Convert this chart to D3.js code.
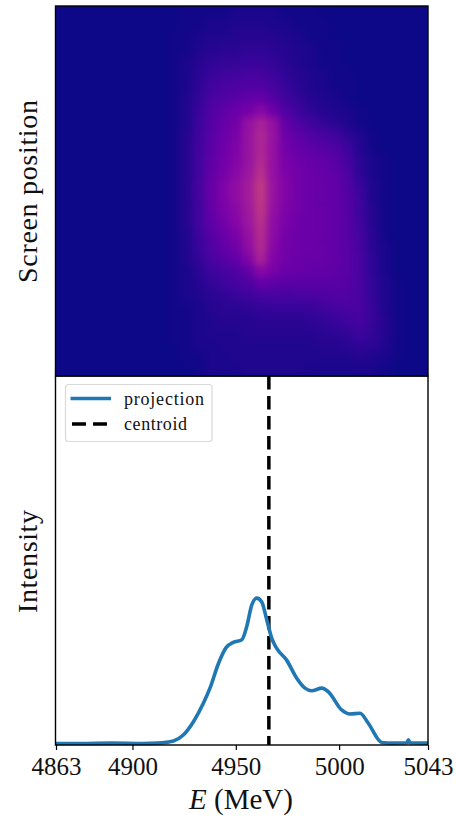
<!DOCTYPE html>
<html>
<head>
<meta charset="utf-8">
<script src="https://cdn.jsdelivr.net/npm/d3@7"></script>
<style>
  html, body { margin: 0; padding: 0; background: #fff; }
  svg { display: block; }
  text { font-family: "Liberation Serif", serif; fill: #111; }
</style>
</head>
<body>
<div id="chart"></div>
<script>
// projection
var projEnergy = [4863, 4875, 4890, 4905, 4912, 4919.8, 4924.6, 4929.5, 4934.3, 4937.5, 4941.6, 4945.3, 4948.8, 4952.9,
    4955.3, 4957.7, 4960.1, 4962.5, 4965, 4967.4, 4969.8, 4974.6, 4979.5, 4983.5, 4986.7, 4991.6, 4994.8, 5001.2,
    5005.3, 5010.1, 5014.1, 5020.6, 5026, 5032.7, 5033.5, 5034.3, 5043];
var projIntensity = [0.004, 0.004, 0.005, 0.004, 0.005, 0.011, 0.027, 0.063, 0.113, 0.154, 0.221, 0.264, 0.278, 0.285,
    0.321, 0.379, 0.398, 0.388, 0.339, 0.289, 0.262, 0.230, 0.181, 0.154, 0.147, 0.154, 0.144, 0.095,
    0.084, 0.086, 0.059, 0.007, 0.005, 0.006, 0.014, 0.006, 0.005];

var centroid = 4966;
var xTicks = [4863, 4900, 4950, 5000, 5043];
var legendLabels = ["projection", "centroid"];
var legendWidths = [80, 63];

// heatmap: energy bin centres (MeV), one row per screen slice, plasma fraction x 100
var energyBins = [4920, 4926, 4932, 4938, 4944, 4950, 4956, 4962, 4968, 4974, 4980, 4986, 4992, 4998, 5004, 5010, 5016, 5022, 5028, 5034];
var heatRows = [
    [0,1,1,1,1,2,2,2,2,1,1,1,0,0,0,0,0,0,0,0],
    [0,1,1,2,2,3,3,3,2,2,1,1,1,0,0,0,0,0,0,0],
    [1,1,2,3,3,4,4,4,4,3,2,1,1,0,0,0,0,0,0,0],
    [1,1,3,4,5,5,6,6,5,4,3,2,1,1,0,0,0,0,0,0],
    [1,2,4,6,7,7,8,8,7,5,3,2,1,1,0,0,0,0,0,0],
    [1,2,5,8,9,10,11,11,9,6,4,3,2,1,1,0,0,0,0,0],
    [1,2,6,10,12,13,14,14,12,8,5,3,2,1,1,0,0,0,0,0],
    [1,3,7,12,14,16,18,19,15,10,7,4,3,2,1,0,0,0,0,0],
    [1,3,8,14,17,20,23,28,21,14,9,6,4,3,2,1,0,0,0,0],
    [1,3,9,15,19,22,31,37,31,18,13,10,7,5,3,1,0,0,0,0],
    [1,4,9,16,20,24,32,39,32,21,17,14,12,10,6,3,1,0,0,0],
    [1,4,10,16,21,25,32,39,31,22,19,17,15,13,9,4,1,0,0,0],
    [1,4,10,17,22,26,32,40,31,24,21,19,18,16,11,5,2,1,0,0],
    [1,4,10,18,23,28,33,42,31,25,22,20,19,17,13,6,2,1,0,0],
    [1,4,11,19,25,30,35,45,32,26,22,20,19,18,14,8,3,1,0,0],
    [1,4,11,19,25,30,35,45,32,26,22,20,19,18,15,9,3,1,0,0],
    [1,4,10,18,24,28,34,44,31,25,22,20,19,18,15,9,4,1,0,0],
    [1,4,10,17,22,27,33,42,30,24,21,20,19,18,15,10,4,1,0,0],
    [1,3,9,15,20,24,31,41,29,23,21,20,19,18,15,11,5,1,0,0],
    [1,3,8,14,18,22,30,40,28,22,21,20,19,18,16,11,5,2,0,0],
    [1,3,7,12,15,18,26,37,26,22,20,19,19,18,16,12,6,2,0,0],
    [1,2,5,9,11,13,18,28,24,20,19,18,18,17,16,12,6,2,0,0],
    [1,2,4,7,9,11,13,18,17,16,16,16,16,16,15,12,7,3,1,0],
    [1,2,3,5,6,8,9,11,11,11,12,12,13,14,14,12,7,3,1,0],
    [1,1,2,4,5,5,6,7,8,8,8,8,9,11,12,12,8,3,1,0],
    [1,1,2,3,4,4,4,5,5,5,5,6,7,8,10,11,8,4,1,0],
    [1,1,2,3,3,3,4,4,4,4,4,4,5,6,7,9,7,4,1,0],
    [0,1,2,2,3,3,3,3,3,3,3,3,4,4,5,6,6,3,1,0],
    [0,1,1,2,2,3,3,3,3,3,3,3,3,3,3,4,3,2,1,0],
    [0,0,1,2,2,2,3,3,3,3,3,2,2,2,2,2,2,1,0,0]
];

var width = 456,
    height = 818;

var plot = { left: 56, right: 428, top: 6, mid: 376, bottom: 745 };
var binWidth = 6;

var x = d3.scaleLinear().domain([4863, 5043]).range([plot.left, plot.right]);
var yProj = d3.scaleLinear().domain([0, 1]).range([plot.bottom, plot.mid]);
var yRow = d3.scaleLinear().domain([0, heatRows.length]).range([plot.top, plot.mid]);
var color = function(v) { return d3.interpolatePlasma(v / 100); };

var svg = d3.select("#chart").append("svg")
    .attr("width", width)
    .attr("height", height);

var defs = svg.append("defs");
defs.append("clipPath").attr("id", "heat-clip").append("rect")
    .attr("x", plot.left).attr("y", plot.top)
    .attr("width", plot.right - plot.left).attr("height", plot.mid - plot.top);
defs.append("filter").attr("id", "soften")
    .attr("filterUnits", "userSpaceOnUse")
    .attr("color-interpolation-filters", "sRGB")
    .attr("x", 0).attr("y", 0).attr("width", width).attr("height", height)
    .append("feGaussianBlur").attr("stdDeviation", "3.5 3.5");

// top panel
var heat = svg.append("g").attr("clip-path", "url(#heat-clip)");
heat.append("rect")
    .attr("x", plot.left).attr("y", plot.top)
    .attr("width", plot.right - plot.left).attr("height", plot.mid - plot.top)
    .attr("fill", color(0));

// the blur needs an opaque base or the outer cells fade to transparent
var soft = heat.append("g").attr("filter", "url(#soften)");
soft.append("rect")
    .attr("x", 0).attr("y", 0)
    .attr("width", width).attr("height", height)
    .attr("fill", color(0));

var rows = soft.selectAll("g").data(heatRows).enter().append("g");

rows.selectAll("rect")
    .data(function(row, j) { return row.map(function(v, i) { return { v: v, e: energyBins[i], j: j }; }); })
    .enter().append("rect")
    .attr("x", function(d) { return x(d.e - binWidth / 2); })
    .attr("width", x(binWidth) - x(0) + 0.5)
    .attr("y", function(d) { return yRow(d.j); })
    .attr("height", yRow(1) - yRow(0) + 0.5)
    .attr("fill", function(d) { return color(d.v); });

// bottom panel
svg.append("line")
    .attr("x1", x(centroid)).attr("x2", x(centroid))
    .attr("y1", plot.mid).attr("y2", plot.bottom)
    .attr("stroke", "#000")
    .attr("stroke-width", 3.5)
    .attr("stroke-dasharray", "13.5,6.5");

var line = d3.line()
    .x(function(d) { return x(d[0]); })
    .y(function(d) { return yProj(d[1]); })
    .curve(d3.curveMonotoneX);

svg.append("path")
    .datum(d3.zip(projEnergy, projIntensity))
    .attr("d", line)
    .attr("fill", "none")
    .attr("stroke", "#1f77b4")
    .attr("stroke-width", 3.6);

// frames
[[plot.top, plot.mid], [plot.mid, plot.bottom]].forEach(function(p) {
    svg.append("rect")
        .attr("x", plot.left - 0.5).attr("y", p[0])
        .attr("width", plot.right - plot.left + 0.5).attr("height", p[1] - p[0])
        .attr("fill", "none")
        .attr("stroke", "#000")
        .attr("stroke-width", 1.4);
});

// x axis
var axis = svg.append("g")
    .attr("transform", "translate(0," + plot.bottom + ")")
    .call(d3.axisBottom(x).tickValues(xTicks).tickFormat(d3.format("d")).tickSize(5).tickPadding(7));
axis.select(".domain").remove();
axis.selectAll(".tick line").attr("stroke", "#000").attr("stroke-width", 1.2);
axis.selectAll(".tick text").style("font-size", "25px").style("font-family", '"Liberation Serif", serif').attr("fill", "#111");

var xLabel = svg.append("text")
    .attr("x", (plot.left + plot.right) / 2 - 1)
    .attr("y", 809)
    .attr("text-anchor", "middle")
    .style("font-size", "29px");
xLabel.append("tspan").style("font-style", "italic").text("E");
xLabel.append("tspan").text(" (MeV)");

svg.append("text")
    .attr("transform", "translate(37,191.5) rotate(-90)")
    .attr("text-anchor", "middle")
    .attr("textLength", 183)
    .attr("lengthAdjust", "spacing")
    .style("font-size", "28px")
    .text("Screen position");

svg.append("text")
    .attr("transform", "translate(37,561.5) rotate(-90)")
    .attr("text-anchor", "middle")
    .attr("textLength", 103)
    .attr("lengthAdjust", "spacing")
    .style("font-size", "28px")
    .text("Intensity");

// legend
var legend = svg.append("g");
legend.append("rect")
    .attr("x", 65.5).attr("y", 384.5)
    .attr("width", 146.5).attr("height", 57)
    .attr("rx", 3)
    .attr("fill", "#fff")
    .attr("fill-opacity", 0.85)
    .attr("stroke", "#d9d9d9")
    .attr("stroke-width", 1.2);

legendLabels.forEach(function(label, i) {
    var ly = 398.5 + i * 25.5;
    legend.append("line")
        .attr("x1", i == 0 ? 70.5 : 72).attr("x2", i == 0 ? 111 : 107)
        .attr("y1", ly).attr("y2", ly)
        .attr("stroke", i == 0 ? "#1f77b4" : "#000")
        .attr("stroke-width", 3.4)
        .attr("stroke-dasharray", i == 0 ? null : "14,7");
    legend.append("text")
        .attr("x", 124)
        .attr("y", ly + 6)
        .attr("textLength", legendWidths[i])
        .attr("lengthAdjust", "spacing")
        .style("font-size", "18px")
        .text(label);
});
</script>
</body>
</html>
